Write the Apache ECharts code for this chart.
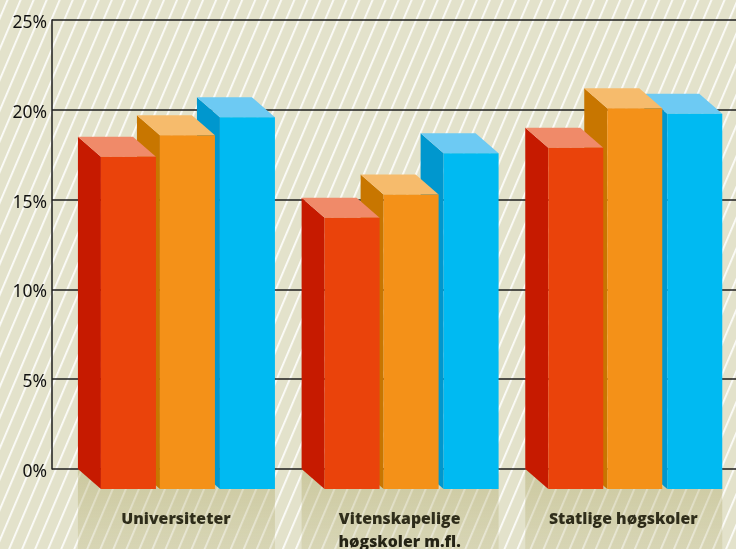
<!DOCTYPE html>
<html><head><meta charset="utf-8">
<style>
html,body{margin:0;padding:0;width:736px;height:549px;overflow:hidden;background-color:#e3e2cb;}
#bg{position:absolute;left:0;top:0}
#c{position:absolute;left:0;top:0;width:736px;height:549px}
</style>
<script src="https://cdn.jsdelivr.net/npm/echarts@6/dist/echarts.min.js"></script>
</head><body>
<svg id="bg" width="736" height="549" xmlns="http://www.w3.org/2000/svg">
<defs><pattern id="st" width="12" height="12" patternUnits="userSpaceOnUse" patternTransform="rotate(23)">
<rect x="6.1" y="0" width="1.6" height="12" fill="#ffffff"/></pattern></defs>
<rect width="736" height="549" fill="url(#st)"/></svg>
<div id="c"></div>
<script>
var categories = ['Universiteter', 'Vitenskapelige\nhøgskoler m.fl.', 'Statlige høgskoler'];
var yTicks = [0, 5, 10, 15, 20, 25];
var redValues = [18.5, 15.1, 19.0];
var orangeValues = [19.7, 16.4, 21.2];
var blueValues = [20.7, 18.7, 20.9];

var DX = 23, DY = 20, W = 55;
var chart = echarts.init(document.getElementById('c'), null, {renderer:'canvas'});

function barRenderer(off, front, side, topc) {
  return function (params, api) {
    var p = api.coord([api.value(0), api.value(1)]);
    var b = api.coord([api.value(0), 0]);
    var x = p[0] + off, y = p[1], y0 = b[1];
    return {type:'group', children:[
      {type:'polygon', shape:{points:[[x-DX,y-DY],[x,y],[x,y0],[x-DX,y0-DY]]}, style:{fill:side}},
      {type:'polygon', shape:{points:[[x-DX,y-DY],[x-DX+W,y-DY],[x+W,y],[x,y]]}, style:{fill:topc}},
      {type:'rect', shape:{x:x, y:y, width:W, height:y0-y}, style:{fill:front}}
    ]};
  };
}
function baseRenderer(params, api) {
  var b = api.coord([api.value(0), 0]);
  var x = b[0] - 98, y = b[1] - 20;
  return {type:'rect', shape:{x:x, y:y, width:197, height:549-y}, style:{
    fill:{type:'linear',x:0,y:0,x2:0,y2:1,colorStops:[
      {offset:0,color:'rgba(170,163,95,0.40)'},{offset:1,color:'rgba(170,163,95,0.20)'}]}}};
}
function pairs(a){return a.map(function(v,i){return [i,v];});}
function custom(name,data,fn,z){
  return {type:'custom',name:name,xAxisIndex:1,yAxisIndex:1,data:pairs(data),
    renderItem:fn,z:z,silent:true,clip:false,encode:{x:0,y:1}};
}
chart.setOption({
  animation:false,
  backgroundColor:'transparent',
  grid:[
    {left:52,top:20,width:684,height:449,outerBoundsMode:'none'},
    {left:64.1,top:40,width:671,height:449,outerBoundsMode:'none'}
  ],
  xAxis:[
    {gridIndex:0,type:'value',min:0,max:1,show:false},
    {gridIndex:1,type:'category',data:categories,
      axisLine:{show:false},axisTick:{show:false},
      axisLabel:{margin:19,color:'#000',fontFamily:'"Open Sans"',fontWeight:800,fontSize:15.8,lineHeight:23,interval:0}}
  ],
  yAxis:[
    {gridIndex:0,type:'value',min:0,max:25,interval:5,
      axisLine:{show:true,lineStyle:{color:'#1c1c1c',width:1.5}},axisTick:{show:false},
      splitLine:{show:true,lineStyle:{color:'#1c1c1c',width:1.5}},
      axisLabel:{margin:5,color:'#111',fontFamily:'"Noto Sans"',fontSize:17.5,verticalAlign:'top',lineHeight:6,
        formatter:function(v){return yTicks.indexOf(v)>=0?v+'%':'';}}},
    {gridIndex:1,type:'value',min:0,max:25,interval:5,show:false}
  ],
  series:[
    custom('base',[0,0,0],baseRenderer,1),
    custom('Blå',blueValues,barRenderer(44,'#00baf2','#0097ce','#6dcaf3'),3),
    custom('Oransje',orangeValues,barRenderer(-16,'#f49118','#c87600','#f6bb6c'),4),
    custom('Rød',redValues,barRenderer(-75,'#ea430b','#c61a00','#f08a69'),5)
  ]
});
</script></body></html>
